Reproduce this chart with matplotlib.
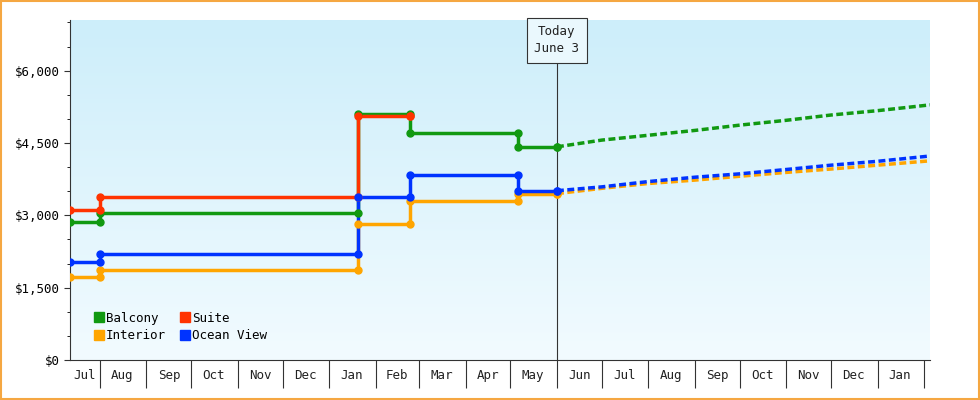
import matplotlib
matplotlib.use("Agg")
import matplotlib.pyplot as plt
import numpy as np
from datetime import date
from matplotlib.lines import Line2D
from matplotlib.patches import Rectangle
from matplotlib.colors import LinearSegmentedColormap

plt.rcParams['font.family'] = ['DejaVu Sans Mono']

start = date(2023, 7, 12)
end = date(2025, 2, 5)
today = date(2024, 6, 1)

step_dates = [date(2023, 7, 12), date(2023, 8, 1), date(2024, 1, 20), date(2024, 2, 24), date(2024, 5, 6), today]
balcony = [2870, 3050, 5100, 4710, 4420, 4420]
suite = [3120, 3370, 5050, 5050]
interior = [1720, 1860, 2830, 3290, 3450, 3450]
ocean = [2030, 2200, 3370, 3840, 3510, 3510]

fc_dates = [today, date(2024, 7, 1), date(2024, 8, 1), date(2024, 9, 1), date(2024, 10, 1),
            date(2024, 11, 1), date(2024, 12, 1), date(2025, 1, 1), end]
balcony_fc = [4420, 4560, 4660, 4760, 4870, 4970, 5080, 5170, 5290]
interior_fc = [3450, 3560, 3660, 3730, 3810, 3890, 3960, 4040, 4130]
ocean_fc = [3510, 3590, 3700, 3790, 3860, 3950, 4040, 4120, 4230]

colors = {'Balcony': '#119911', 'Suite': '#ff3300', 'Interior': '#ffa500', 'Ocean View': '#0033ff'}

fig = plt.figure(figsize=(9.8, 4), dpi=100)
fig.patch.set_facecolor('white')
fig.add_artist(Rectangle((0.001, 0.002), 0.998, 0.996, transform=fig.transFigure,
                         fill=False, edgecolor='#f5a742', lw=1.5))
ax = fig.add_axes([70/980, 40/400, 860/980, 340/400])
grad = np.linspace(0, 1, 256).reshape(-1, 1)
cm = LinearSegmentedColormap.from_list('g', ['#f2fbff', '#cdeefa'])
ax.imshow(grad, aspect='auto', cmap=cm, origin='lower', extent=[0, 1, 0, 1],
          transform=ax.transAxes, zorder=0)

def stepline(ds, vs, c):
    xs, ys = [], []
    for i, (d, v) in enumerate(zip(ds, vs)):
        if i > 0:
            xs.append(d); ys.append(vs[i-1])
        xs.append(d); ys.append(v)
    ax.plot(xs, ys, color=c, lw=2.5, zorder=3)
    ax.plot(xs, ys, 'o', color=c, ms=5, zorder=4)

stepline(step_dates[:len(balcony)], balcony, colors['Balcony'])
stepline(step_dates[:len(suite)], suite, colors['Suite'])
stepline(step_dates[:len(interior)], interior, colors['Interior'])
stepline(step_dates[:len(ocean)], ocean, colors['Ocean View'])
for vals, c in [(balcony_fc, colors['Balcony']), (interior_fc, colors['Interior']), (ocean_fc, colors['Ocean View'])]:
    ax.plot(fc_dates, vals, color=c, lw=2.5, ls=(0, (2, 1)), zorder=3)

ax.axvline(today, color='#333333', lw=0.8, zorder=2)
ax.text(today, 6630, 'Today\nJune 3', ha='center', va='center', fontsize=9, color='#222222',
        linespacing=1.4, bbox=dict(boxstyle='square,pad=0.6', fc='#eaf8fd', ec='#333333', lw=0.8), zorder=5)

ax.set_xlim(start, end)
ax.set_ylim(0, 7050)
ax.set_yticks([0, 1500, 3000, 4500, 6000])
ax.set_yticklabels(['$0', '$1,500', '$3,000', '$4,500', '$6,000'])
ax.yaxis.set_minor_locator(matplotlib.ticker.MultipleLocator(500))
ax.tick_params(axis='y', labelsize=9, length=4, color='#333333')
ax.tick_params(axis='y', which='minor', length=2)

months = []
d = date(2023, 8, 1)
while d <= end:
    months.append(d); d = date(d.year + (d.month // 12), d.month % 12 + 1, 1)
ax.set_xticks(months)
ax.set_xticklabels([])
ax.tick_params(axis='x', length=20, direction='out', color='#333333')
bounds = [start] + months + [end]
for a, b in zip(bounds[:-1], bounds[1:]):
    if (b - a).days < 10:
        continue
    mid = a + (b - a) / 2
    ax.text(mid, -0.045, a.strftime('%b') if a != start else 'Jul', transform=ax.get_xaxis_transform(),
            ha='center', va='center', fontsize=9, color='#222222')

for s in ['top', 'right']:
    ax.spines[s].set_visible(False)
ax.spines['left'].set_color('#333333')
ax.spines['bottom'].set_color('#333333')

handles = [Line2D([], [], marker='s', ls='', color=colors[k], ms=7) for k in ['Balcony', 'Interior', 'Suite', 'Ocean View']]
ax.legend(handles, ['Balcony', 'Interior', 'Suite', 'Ocean View'], ncol=2, loc='lower left',
          bbox_to_anchor=(0.01, 0.02), frameon=False, fontsize=9, handletextpad=-0.2,
          columnspacing=0.8, labelspacing=0.35, handlelength=1.5)

fig.savefig('out.png', dpi=100)
